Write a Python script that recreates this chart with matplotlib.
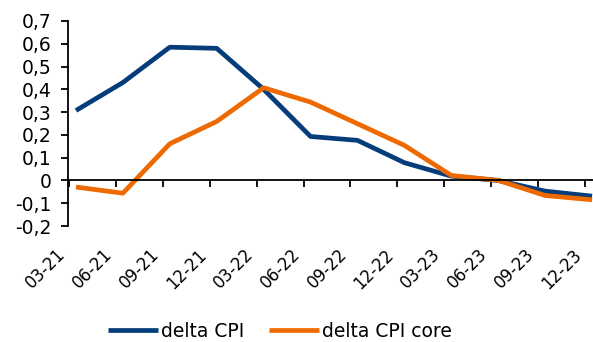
import matplotlib
matplotlib.use("Agg")
import matplotlib.pyplot as plt
import numpy as np

categories = ["03-21", "06-21", "09-21", "12-21", "03-22", "06-22",
              "09-22", "12-22", "03-23", "06-23", "09-23", "12-23"]
delta_cpi = [0.307, 0.43, 0.585, 0.58, 0.40, 0.193, 0.176, 0.078, 0.019, 0.0, -0.047, -0.069]
delta_cpi_core = [-0.029, -0.056, 0.161, 0.259, 0.407, 0.344, 0.249, 0.154, 0.022, 0.0, -0.066, -0.085]
y_ticks = [-0.2, -0.1, 0, 0.1, 0.2, 0.3, 0.4, 0.5, 0.6, 0.7]
y_labels = ["-0,2", "-0,1", "0", "0,1", "0,2", "0,3", "0,4", "0,5", "0,6", "0,7"]

plt.rcParams['font.family'] = ['DejaVu Sans']
fig = plt.figure(figsize=(5.93, 3.42), dpi=100)
ax = fig.add_axes([68/593, 1-226/342, 1-68/593, (226-21)/342])

x = np.arange(len(categories))
blue = "#043d7a"
orange = "#ee6a00"
ax.plot(x, delta_cpi, color=blue, lw=3.4, label="delta CPI", solid_capstyle="butt")
ax.plot(x, delta_cpi_core, color=orange, lw=3.4, label="delta CPI core", solid_capstyle="butt")

ax.set_ylim(-0.2, 0.7)
ax.set_xlim(-0.17, 11.02)
ax.set_yticks(y_ticks)
ax.set_yticklabels(y_labels, fontsize=13.5)
ax.tick_params(axis='y', direction='out', length=5, width=1.3, pad=7)

for s in ["top", "right"]:
    ax.spines[s].set_visible(False)
ax.spines["left"].set_linewidth(1.3)
ax.spines["bottom"].set_position(("data", 0))
ax.spines["bottom"].set_linewidth(1.3)
tick_pos = x - 0.15
ax.set_xticks(tick_pos)
ax.tick_params(axis='x', direction='out', length=5, width=1.3, labelbottom=False)

sec = ax.secondary_xaxis(0.0)
sec.set_xticks(tick_pos)
sec.set_xticklabels(categories, fontsize=12, rotation=45, ha='right', va='top')
sec.tick_params(axis='x', length=0, pad=14)
sec.spines["bottom"].set_visible(False)

fig.legend(loc="lower center", bbox_to_anchor=(0.472, -0.045), ncol=2, frameon=False,
           fontsize=13.5, handlelength=2.67, columnspacing=1.3, handletextpad=0.15)

fig.savefig("out.png", dpi=100)
